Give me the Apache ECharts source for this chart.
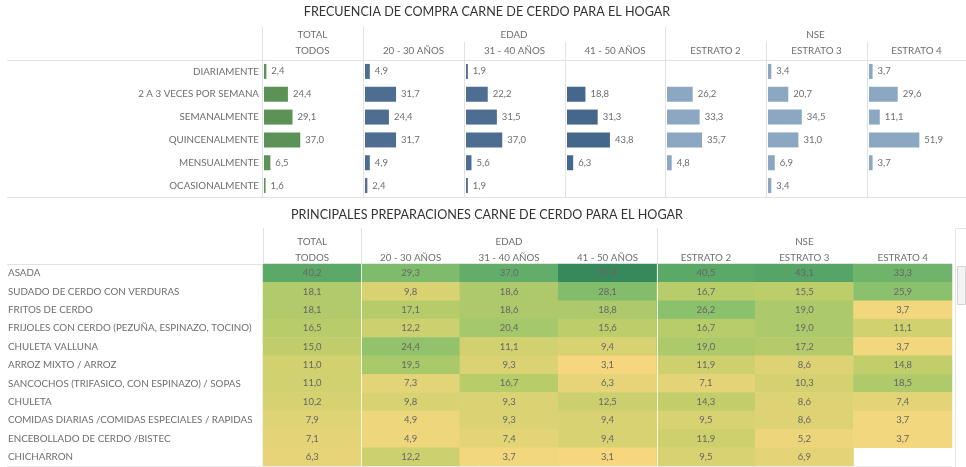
<!DOCTYPE html>
<html>
<head>
<meta charset="utf-8">
<script src="https://cdn.jsdelivr.net/npm/echarts@6/dist/echarts.min.js"></script>
<style>
  html, body { margin: 0; padding: 0; background: #fff; }
  #chart { width: 966px; height: 467px; }
</style>
</head>
<body>
<div id="chart"></div>
<script>
// ---- Data ----------------------------------------------------------------
const groupLabels = ['TOTAL', 'EDAD', 'NSE'];
const segments = ['TODOS', '20 - 30 AÑOS', '31 - 40 AÑOS', '41 - 50 AÑOS', 'ESTRATO 2', 'ESTRATO 3', 'ESTRATO 4'];

// Purchase frequency (% of households), one array per segment
const frequencies = ['DIARIAMENTE', '2 A 3 VECES POR SEMANA', 'SEMANALMENTE', 'QUINCENALMENTE', 'MENSUALMENTE', 'OCASIONALMENTE'];
const freqTodos   = [2.4, 24.4, 29.1, 37.0, 6.5, 1.6];
const freq20a30   = [4.9, 31.7, 24.4, 31.7, 4.9, 2.4];
const freq31a40   = [1.9, 22.2, 31.5, 37.0, 5.6, 1.9];
const freq41a50   = [null, 18.8, 31.3, 43.8, 6.3, null];
const freqEstrato2 = [null, 26.2, 33.3, 35.7, 4.8, null];
const freqEstrato3 = [3.4, 20.7, 34.5, 31.0, 6.9, 3.4];
const freqEstrato4 = [3.7, 29.6, 11.1, 51.9, 3.7, null];

// Main preparations (% of households), one array per dish, values by segment
const dishes = [
  'ASADA',
  'SUDADO DE CERDO CON VERDURAS',
  'FRITOS DE CERDO',
  'FRIJOLES CON CERDO (PEZUÑA, ESPINAZO, TOCINO)',
  'CHULETA VALLUNA',
  'ARROZ MIXTO / ARROZ',
  'SANCOCHOS (TRIFASICO, CON ESPINAZO) / SOPAS',
  'CHULETA',
  'COMIDAS DIARIAS /COMIDAS ESPECIALES / RAPIDAS',
  'ENCEBOLLADO DE CERDO /BISTEC',
  'CHICHARRON'
];
const prepAsada       = [40.2, 29.3, 37.0, 59.4, 40.5, 43.1, 33.3];
const prepSudado      = [18.1, 9.8, 18.6, 28.1, 16.7, 15.5, 25.9];
const prepFritos      = [18.1, 17.1, 18.6, 18.8, 26.2, 19.0, 3.7];
const prepFrijoles    = [16.5, 12.2, 20.4, 15.6, 16.7, 19.0, 11.1];
const prepChuletaVall = [15.0, 24.4, 11.1, 9.4, 19.0, 17.2, 3.7];
const prepArroz       = [11.0, 19.5, 9.3, 3.1, 11.9, 8.6, 14.8];
const prepSancochos   = [11.0, 7.3, 16.7, 6.3, 7.1, 10.3, 18.5];
const prepChuleta     = [10.2, 9.8, 9.3, 12.5, 14.3, 8.6, 7.4];
const prepComidas     = [7.9, 4.9, 9.3, 9.4, 9.5, 8.6, 3.7];
const prepEncebollado = [7.1, 4.9, 7.4, 9.4, 11.9, 5.2, 3.7];
const prepChicharron  = [6.3, 12.2, 3.7, 3.1, 9.5, 6.9, null];

// ---- Layout ----------------------------------------------------------------
const freqSeries = [freqTodos, freq20a30, freq31a40, freq41a50, freqEstrato2, freqEstrato3, freqEstrato4];
const prepRows = [prepAsada, prepSudado, prepFritos, prepFrijoles, prepChuletaVall, prepArroz,
                  prepSancochos, prepChuleta, prepComidas, prepEncebollado, prepChicharron];

const FONT = 'Lato, "Open Sans", sans-serif';
const TXT = '#6e6e6e';
const LINE = '#e2e2e2';
const LABEL_SIZE = 9.8;
const VALUE_SIZE = 9.5;

const barCols = [262, 363, 464, 565, 665, 766, 867];
const barColEnd = 966;
const barTop = 60, barBottom = 197;
const barColors = ['#5b9356', '#4d6d91', '#4d6d91', '#46678c', '#8ba7c1', '#8ba7c1', '#8ba7c1'];

const hmLeft = 263, hmRight = 952, hmTop = 264, hmBottom = 466;
const hmColW = (hmRight - hmLeft) / segments.length;

const fmt = v => v.toFixed(1).replace('.', ',');

const grids = [], xAxes = [], yAxes = [], series = [];

segments.forEach((seg, i) => {
  grids.push({ left: barCols[i] + 2, top: barTop, width: 98, height: barBottom - barTop });
  xAxes.push({ gridIndex: i, type: 'value', min: 0, max: 100, show: false });
  yAxes.push({
    gridIndex: i, type: 'category', data: frequencies, inverse: true,
    axisLine: { show: false }, axisTick: { show: false }, splitLine: { show: false },
    axisLabel: i === 0
      ? { show: true, margin: 5, color: TXT, fontSize: LABEL_SIZE, fontFamily: FONT }
      : { show: false }
  });
  series.push({
    type: 'bar', xAxisIndex: i, yAxisIndex: i,
    data: freqSeries[i], barWidth: 15, silent: true,
    itemStyle: { color: barColors[i] },
    label: {
      show: true, position: 'right', distance: 5,
      color: TXT, fontSize: VALUE_SIZE, fontFamily: FONT,
      formatter: p => (p.value == null ? '' : fmt(p.value))
    }
  });
});

// Heatmap grid
const hg = grids.length;
grids.push({ left: hmLeft, top: hmTop, width: hmRight - hmLeft, height: hmBottom - hmTop });
xAxes.push({ gridIndex: hg, type: 'category', data: segments, show: false });
yAxes.push({
  gridIndex: hg, type: 'category', data: dishes, inverse: true,
  axisLine: { show: false }, axisTick: { show: false }, splitLine: { show: false },
  axisLabel: { align: 'left', margin: hmLeft - 8, color: TXT, fontSize: LABEL_SIZE, fontFamily: FONT }
});
const hmData = [];
prepRows.forEach((row, r) => row.forEach((v, c) => { if (v != null) hmData.push([c, r, v]); }));
series.push({
  type: 'heatmap', xAxisIndex: hg, yAxisIndex: hg, data: hmData, silent: true,
  label: { show: true, color: '#666', fontSize: VALUE_SIZE, fontFamily: FONT, formatter: p => fmt(p.value[2]) },
  itemStyle: { borderWidth: 0 }
});

// ---- Header text and rules ---------------------------------------------------
const g = [];
const text = (t, x, y, size, color, align) => g.push({
  type: 'text', x, y, silent: true, z: 100,
  style: { text: t, fill: color || TXT, fontSize: size || LABEL_SIZE, fontFamily: FONT,
           align: align || 'center', verticalAlign: 'middle' }
});
const line = (x1, y1, x2, y2, color) => g.push({
  type: 'line', silent: true, z: 100,
  shape: { x1, y1, x2, y2 }, style: { stroke: color || LINE, lineWidth: 1 }
});

// bar section
text('FRECUENCIA DE COMPRA CARNE DE CERDO PARA EL HOGAR', 487, 12, 12.6, '#333');
const colMid = (a, b) => (a + b) / 2;
const barEdges = barCols.concat([barColEnd]);
text(groupLabels[0], colMid(barEdges[0], barEdges[1]), 35);
text(groupLabels[1], colMid(barEdges[1], barEdges[4]), 35);
text(groupLabels[2], colMid(barEdges[4], barEdges[7]), 35);
segments.forEach((s, i) => text(s, colMid(barEdges[i], barEdges[i + 1]), 51));
[262, 363, 665].forEach(x => line(x + 0.5, 27, x + 0.5, barBottom));
[464, 565, 766, 867].forEach(x => line(x + 0.5, 42, x + 0.5, barBottom));
line(7, barTop + 0.5, 966, barTop + 0.5);
line(7, barBottom + 0.5, 966, barBottom + 0.5);

// heatmap section
text('PRINCIPALES PREPARACIONES CARNE DE CERDO PARA EL HOGAR', 487, 215, 12.6, '#333');
const hmEdges = segments.map((s, i) => hmLeft + i * hmColW).concat([hmRight]);
text(groupLabels[0], colMid(hmEdges[0], hmEdges[1]), 242);
text(groupLabels[1], colMid(hmEdges[1], hmEdges[4]), 242);
text(groupLabels[2], colMid(hmEdges[4], hmEdges[7]), 242);
segments.forEach((s, i) => text(s, colMid(hmEdges[i], hmEdges[i + 1]), 258));
[hmEdges[0], hmEdges[1], hmEdges[4]].forEach(x => line(Math.round(x) + 0.5, 228, Math.round(x) + 0.5, hmTop));
[hmEdges[1], hmEdges[4]].forEach(x => line(Math.round(x) + 0.5, hmTop, Math.round(x) + 0.5, hmBottom, 'rgba(255,255,255,0.8)'));
line(7, hmTop + 0.5, hmLeft, hmTop + 0.5);
line(7, hmBottom + 0.5, hmRight, hmBottom + 0.5, '#ececec');

// scroll bar at the right edge of the table
g.push({ type: 'rect', silent: true, z: 100, shape: { x: 955.5, y: 228.5, width: 11, height: 239 },
         style: { fill: '#fff', stroke: '#e4e4e4', lineWidth: 1 } });
g.push({ type: 'rect', silent: true, z: 101, shape: { x: 957.5, y: 266.5, width: 8, height: 38 },
         style: { fill: '#f3f3f3', stroke: '#d4d4d4', lineWidth: 1 } });

const chart = echarts.init(document.getElementById('chart'), null, { renderer: 'canvas' });
chart.setOption({
  backgroundColor: '#fff',
  animation: false,
  textStyle: { fontFamily: FONT },
  grid: grids,
  xAxis: xAxes,
  yAxis: yAxes,
  visualMap: {
    show: false, type: 'continuous', seriesIndex: series.length - 1,
    min: 3.1, max: 59.4,
    inRange: { color: ['#f6d77e', '#c3ce6a', '#8cc26c', '#63ad6b', '#4b9c63', '#37885a'] }
  },
  series: series,
  graphic: g
});
</script>
</body>
</html>
